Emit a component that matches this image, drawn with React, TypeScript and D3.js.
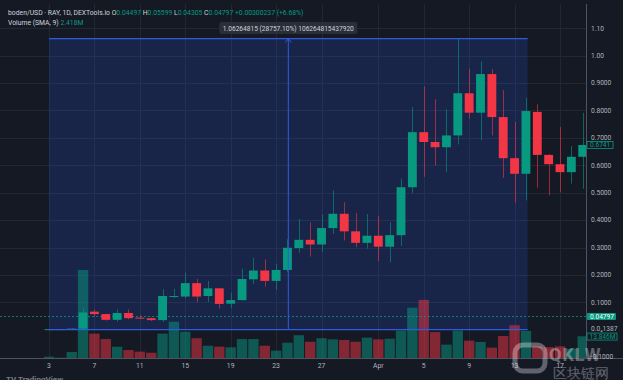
import React from "react";
import * as d3 from "d3";

const dates = [
  "2024-03-03","2024-03-04","2024-03-05","2024-03-06","2024-03-07","2024-03-08","2024-03-09","2024-03-10",
  "2024-03-11","2024-03-12","2024-03-13","2024-03-14","2024-03-15","2024-03-16","2024-03-17","2024-03-18",
  "2024-03-19","2024-03-20","2024-03-21","2024-03-22","2024-03-23","2024-03-24","2024-03-25","2024-03-26",
  "2024-03-27","2024-03-28","2024-03-29","2024-03-30","2024-03-31","2024-04-01","2024-04-02","2024-04-03",
  "2024-04-04","2024-04-05","2024-04-06","2024-04-07","2024-04-08","2024-04-09","2024-04-10","2024-04-11",
  "2024-04-12","2024-04-13","2024-04-14","2024-04-15","2024-04-16","2024-04-17","2024-04-18","2024-04-19",
];
const opens = [
  0.0015,0.0020,0.0022,0.0040,0.066,0.057,0.036,0.061,0.044,0.042,0.035,0.120,0.121,0.170,0.123,0.151,
  0.095,0.108,0.184,0.216,0.178,0.218,0.298,0.328,0.311,0.371,0.423,0.359,0.317,0.343,0.303,0.345,
  0.520,0.721,0.685,0.666,0.709,0.863,0.792,0.933,0.776,0.626,0.569,0.795,0.638,0.604,0.575,0.631,
];
const highs = [
  0.0025,0.0025,0.0045,0.077,0.074,0.058,0.074,0.074,0.052,0.044,0.148,0.149,0.208,0.185,0.178,0.152,
  0.135,0.223,0.263,0.257,0.240,0.330,0.404,0.392,0.420,0.508,0.465,0.426,0.422,0.416,0.392,0.551,
  0.813,0.888,0.841,0.804,1.0626,0.953,0.979,0.951,0.874,0.758,0.847,0.823,0.640,0.740,0.670,0.792,
];
const lows = [
  0.0010,0.0015,0.0020,0.0030,0.047,0.033,0.029,0.038,0.040,0.032,0.029,0.115,0.115,0.100,0.101,0.077,
  0.078,0.106,0.166,0.157,0.145,0.210,0.280,0.267,0.284,0.349,0.326,0.301,0.296,0.251,0.246,0.306,
  0.499,0.558,0.599,0.575,0.676,0.770,0.691,0.709,0.554,0.463,0.472,0.518,0.490,0.501,0.533,0.514,
];
const closes = [
  0.0020,0.0022,0.0040,0.063,0.057,0.036,0.061,0.042,0.042,0.035,0.123,0.123,0.170,0.121,0.151,0.094,
  0.108,0.185,0.216,0.178,0.218,0.299,0.328,0.311,0.371,0.423,0.359,0.317,0.343,0.303,0.345,0.520,
  0.721,0.685,0.666,0.709,0.863,0.792,0.933,0.776,0.626,0.569,0.798,0.638,0.604,0.575,0.631,0.6741,
];
const volumesM = [
  1.0,0.4,4.0,55.5,15.5,12.1,7.3,5.2,4.2,3.5,15.5,23.0,16.7,12.6,7.9,7.3,
  6.9,12.1,12.1,7.9,4.8,9.8,14.5,10.4,12.6,11.9,11.5,10.4,13.0,11.9,12.3,17.4,
  31.8,36.7,16.5,8.6,17.4,11.1,10.3,6.7,14.0,20.8,17.2,7.5,7.0,7.5,6.0,13.846,
];
const priceTicks = [1.1, 1.0, 0.9, 0.8, 0.7, 0.6, 0.5, 0.4, 0.3, 0.2, 0.1];
const priceTickLabels = ["1.10","1.00","0.9000","0.8000","0.7000","0.6000","0.5000","0.4000","0.3000","0.2000","0.1000"];
const timeTicks = ["2024-03-03","2024-03-07","2024-03-11","2024-03-15","2024-03-19","2024-03-23","2024-03-27","2024-04-01","2024-04-05","2024-04-09","2024-04-13","2024-04-17"];
const timeTickLabels = ["3","7","11","15","19","23","27","Apr","5","9","13","17"];

const rangeStartDate = "2024-03-03";
const rangeEndDate = "2024-04-14";
const rangeLow = 0.0;
const rangeHigh = 1.06264815;
const lastPrice = 0.04797;

const W = 623, H = 380;
const GREEN = "#089981", RED = "#f23645";
const BG = "#151924";
const TXT = "#b2b5be";
const FONT = "Roboto, 'Noto Sans', sans-serif";

export default function App() {
  const parse = (s: string) => new Date(s + "T00:00:00Z");
  const x = d3.scaleUtc().domain([parse("2024-03-03"), parse("2024-04-17")]).range([49, 560]);
  const y = d3.scaleLinear().domain([0.1, 1.1]).range([302.3, 28.3]);
  const vy = d3.scaleLinear().domain([0, 55.5]).range([358.3, 270]);
  const step = x(parse("2024-03-04")) - x(parse("2024-03-03"));
  const bodyW = step * 0.78;
  const volW = step - 1;
  const axisX = 586;
  const axisY = 358;

  const candles = dates.map((d, i) => ({
    t: parse(d), o: opens[i], h: highs[i], l: lows[i], c: closes[i], v: volumesM[i],
  }));

  const rx0 = x(parse(rangeStartDate));
  const rx1 = x(parse(rangeEndDate)) + step * 0.15;
  const ry0 = y(rangeHigh);
  const ry1 = y(rangeLow);
  const rmid = (rx0 + rx1) / 2;

  return (
    <svg width={W} height={H} style={{ position: "absolute", left: 0, top: 0, background: BG, fontFamily: FONT }}>
      <rect x={0} y={0} width={W} height={H} fill={BG} />
      <defs>
        <clipPath id="plot"><rect x={0} y={4} width={axisX} height={axisY - 4} /></clipPath>
      </defs>
      {/* grid */}
      <g stroke="#232734" strokeWidth={1}>
        {priceTicks.map((p, i) => (
          <line key={"h" + i} x1={0} x2={axisX} y1={Math.round(y(p)) + 0.5} y2={Math.round(y(p)) + 0.5} />
        ))}
        {timeTicks.map((t, i) => (
          <line key={"v" + i} x1={Math.round(x(parse(t))) + 0.5} x2={Math.round(x(parse(t))) + 0.5} y1={4} y2={axisY} />
        ))}
      </g>
      <g clipPath="url(#plot)">
        {/* price range fill */}
        <rect x={rx0} y={ry0} width={rx1 - rx0} height={ry1 - ry0} fill="rgba(41,98,255,0.17)" />
        {/* volume */}
        {candles.map((c, i) => (
          <rect key={"vol" + i} x={x(c.t) - volW / 2} y={vy(c.v)} width={volW} height={vy(0) - vy(c.v)}
            fill={c.c >= c.o ? "rgba(8,153,129,0.5)" : "rgba(242,54,69,0.5)"} />
        ))}
        {/* last price dashed line */}
        <line x1={0} x2={axisX} y1={y(lastPrice)} y2={y(lastPrice)} stroke={GREEN} strokeDasharray="2,2" strokeWidth={1} opacity={0.8} />
        {/* candles */}
        {candles.map((c, i) => {
          const col = c.c >= c.o ? GREEN : RED;
          const cx = x(c.t);
          const top = y(Math.max(c.o, c.c));
          const bot = y(Math.min(c.o, c.c));
          return (
            <g key={"c" + i}>
              <line x1={Math.round(cx) + 0.5} x2={Math.round(cx) + 0.5} y1={y(c.h)} y2={y(c.l)} stroke={col} strokeWidth={1} opacity={0.6} />
              <rect x={cx - bodyW / 2} y={top} width={bodyW} height={Math.max(1, bot - top)} fill={col} />
            </g>
          );
        })}
        {/* price range lines */}
        <line x1={rx0} x2={rx1} y1={ry0} y2={ry0} stroke="#2f5be0" strokeWidth={1.2} />
        <line x1={rx0} x2={rx1} y1={ry1} y2={ry1} stroke="#2f5be0" strokeWidth={1.2} />
        <line x1={rmid} x2={rmid} y1={ry0} y2={ry1} stroke="#2f5be0" strokeWidth={1} />
        <path d={`M${rmid - 3},${ry0 + 4} L${rmid},${ry0} L${rmid + 3},${ry0 + 4}`} fill="none" stroke="#2f5be0" strokeWidth={1} />
      </g>
      {/* range label */}
      <g>
        <rect x={rmid - 69} y={22} width={138} height={12} rx={2} fill="#2a2e39" />
        <text x={rmid} y={30.5} textAnchor="middle" fontSize={6.6} fill="#d1d4dc">1.06264815 (28757.10%) 106264815437920</text>
      </g>
      {/* axes lines */}
      <line x1={axisX + 0.5} x2={axisX + 0.5} y1={4} y2={axisY} stroke="#50535e" />
      <line x1={0} x2={W} y1={axisY + 0.5} y2={axisY + 0.5} stroke="#50535e" />
      {/* price labels */}
      <g fontSize={6.6} fill={TXT}>
        {priceTicks.map((p, i) => (
          <text key={"pl" + i} x={591} y={y(p) + 2.3}>{priceTickLabels[i]}</text>
        ))}
        <text x={591} y={y(-0.1) + 2.3}>-0.1000</text>
        <text x={591} y={y(0) + 1.5}>0.0₄1387</text>
      </g>
      <rect x={587} y={y(lastPrice) - 3.5} width={29} height={7} rx={1} fill={GREEN} />
      <text x={590} y={y(lastPrice) + 2.3} fontSize={6.6} fill="#ffffff">0.04797</text>
      <rect x={587} y={y(0.6741) - 3.5} width={26} height={7} fill={BG} stroke={GREEN} strokeWidth={0.8} />
      <text x={590} y={y(0.6741) + 2.3} fontSize={6.6} fill={GREEN}>0.6741</text>
      <rect x={587} y={vy(13.846) - 3.2} width={30} height={7} fill={BG} stroke={GREEN} strokeWidth={0.8} />
      <text x={589.5} y={vy(13.846) + 2.5} fontSize={6.6} fill={GREEN}>13.846M</text>
      {/* time labels */}
      <g fontSize={6.8} fill={TXT} textAnchor="middle">
        {timeTicks.map((t, i) => (
          <text key={"tl" + i} x={x(parse(t))} y={368}>{timeTickLabels[i]}</text>
        ))}
      </g>
      {/* header */}
      <text x={8} y={15} fontSize={6.8} fill="#d1d4dc">
        boden/USD · RAY, 1D, DEXTools.io{"  "}
        <tspan fill="#d1d4dc">O</tspan><tspan fill={GREEN}>0.04497 </tspan>
        <tspan fill="#d1d4dc">H</tspan><tspan fill={GREEN}>0.05599 </tspan>
        <tspan fill="#d1d4dc">L</tspan><tspan fill={GREEN}>0.04305 </tspan>
        <tspan fill="#d1d4dc">C</tspan><tspan fill={GREEN}>0.04797 </tspan>
        <tspan fill={GREEN}>+0.00300237 (+6.68%)</tspan>
      </text>
      <text x={8} y={24.5} fontSize={6.8} fill="#d1d4dc">
        Volume (SMA, 9){"  "}<tspan fill={GREEN}>2.418M</tspan>
      </text>
      {/* TradingView logo */}
      <text x={6} y={382} fontSize={8} fill="#787b86" fontWeight="bold">TV TradingView</text>
      {/* watermark */}
      <g opacity={0.32}>
        <rect x={515} y={345} width={30} height={26} rx={8} fill="none" stroke="#ffffff" strokeWidth={5} />
        <text x={549} y={361} fontSize={18} fontWeight="bold" fill="#ffffff" letterSpacing={1}>QKLW</text>
        <text x={553} y={378} fontSize={14} fill="#ffffff">区块链网</text>
      </g>
    </svg>
  );
}
